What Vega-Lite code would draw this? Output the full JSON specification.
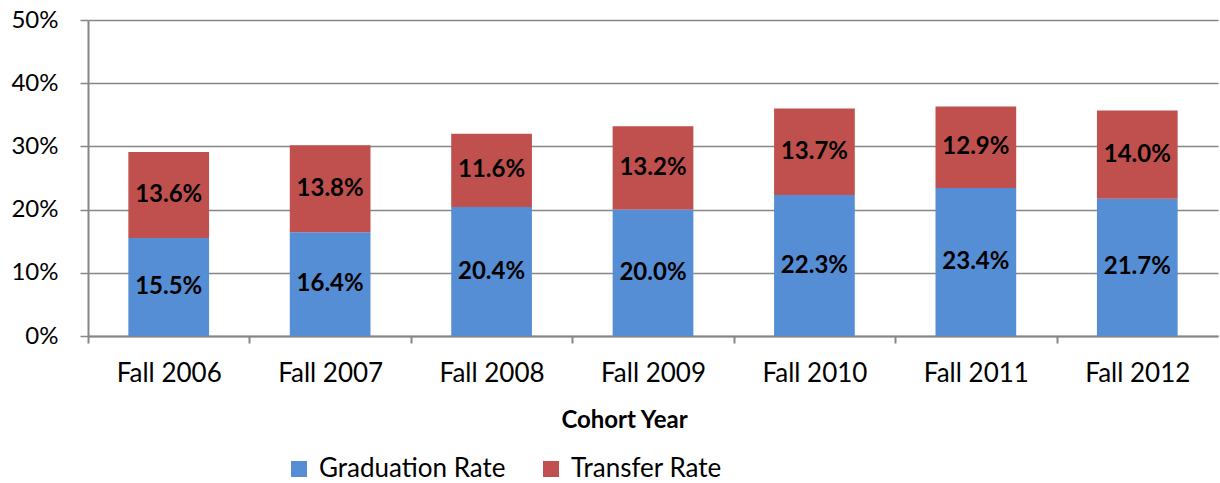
{
  "$schema": "https://vega.github.io/schema/vega-lite/v6.json",
  "width": 1130,
  "height": 316,
  "autosize": {"type": "none"},
  "padding": {"left": 88, "top": 20, "right": 2, "bottom": 147},
  "background": "white",
  "config": {"font": "Lato", "view": {"stroke": null}},
  "data": {
    "values": [
      {"cohort": "Fall 2006", "series": "Graduation Rate", "order": 1, "value": 0.155},
      {"cohort": "Fall 2006", "series": "Transfer Rate", "order": 2, "value": 0.136},
      {"cohort": "Fall 2007", "series": "Graduation Rate", "order": 1, "value": 0.164},
      {"cohort": "Fall 2007", "series": "Transfer Rate", "order": 2, "value": 0.138},
      {"cohort": "Fall 2008", "series": "Graduation Rate", "order": 1, "value": 0.204},
      {"cohort": "Fall 2008", "series": "Transfer Rate", "order": 2, "value": 0.116},
      {"cohort": "Fall 2009", "series": "Graduation Rate", "order": 1, "value": 0.200},
      {"cohort": "Fall 2009", "series": "Transfer Rate", "order": 2, "value": 0.132},
      {"cohort": "Fall 2010", "series": "Graduation Rate", "order": 1, "value": 0.223},
      {"cohort": "Fall 2010", "series": "Transfer Rate", "order": 2, "value": 0.137},
      {"cohort": "Fall 2011", "series": "Graduation Rate", "order": 1, "value": 0.234},
      {"cohort": "Fall 2011", "series": "Transfer Rate", "order": 2, "value": 0.129},
      {"cohort": "Fall 2012", "series": "Graduation Rate", "order": 1, "value": 0.217},
      {"cohort": "Fall 2012", "series": "Transfer Rate", "order": 2, "value": 0.140}
    ]
  },
  "transform": [
    {"stack": "value", "groupby": ["cohort"], "sort": [{"field": "order"}], "as": ["v0", "v1"]}
  ],
  "encoding": {
    "x": {
      "field": "cohort",
      "type": "nominal",
      "sort": null,
      "scale": {"paddingInner": 0.5, "paddingOuter": 0.25},
      "axis": {
        "title": "Cohort Year",
        "titleFontSize": 24,
        "titleFontWeight": "bold",
        "titleColor": "black",
        "titleX": 536,
        "titleY": 84,
        "titleBaseline": "middle",
        "labelAngle": 0,
        "labelFontSize": 26,
        "labelColor": "black",
        "labelPadding": 17,
        "domainColor": "#868686",
        "domainWidth": 2,
        "tickColor": "#868686",
        "tickWidth": 2,
        "tickSize": 7,
        "tickOffset": -80.71,
        "labelOffset": 80.71
      }
    }
  },
  "layer": [
    {
      "mark": {"type": "bar"},
      "encoding": {
        "y": {
          "field": "v0",
          "type": "quantitative",
          "scale": {"domain": [0, 0.5]},
          "axis": {
            "title": null,
            "format": ".0%",
            "values": [0, 0.1, 0.2, 0.3, 0.4, 0.5],
            "grid": true,
            "gridColor": "#868686",
            "gridWidth": 1.5,
            "labelFontSize": 24,
            "labelColor": "black",
            "labelPadding": 22,
            "domainColor": "#868686",
            "domainWidth": 2,
            "tickColor": "#868686",
            "tickWidth": 1.5,
            "tickSize": 8
          }
        },
        "y2": {"field": "v1"},
        "color": {
          "field": "series",
          "type": "nominal",
          "scale": {"domain": ["Graduation Rate", "Transfer Rate"], "range": ["#558ED5", "#C0504D"]},
          "legend": {
            "title": null,
            "orient": "none",
            "legendX": 198,
            "legendY": 436,
            "direction": "horizontal",
            "symbolType": "square",
            "symbolSize": 256,
            "symbolStrokeWidth": 0,
            "labelFontSize": 26,
            "labelColor": "black",
            "labelLimit": 400,
            "labelOffset": 7,
            "columnPadding": 32
          }
        }
      }
    },
    {
      "transform": [
        {"fold": ["v0", "v1"], "as": ["edge", "pos"]},
        {"aggregate": [{"op": "sum", "field": "pos", "as": "mid2"}], "groupby": ["cohort", "series", "value"]}
      ],
      "mark": {"type": "text", "fontWeight": "bold", "fontSize": 24, "color": "black", "baseline": "middle"},
      "encoding": {
        "y": {"field": "mid2", "type": "quantitative", "scale": {"domain": [0, 1]}, "axis": null},
        "text": {"field": "value", "type": "quantitative", "format": ".1%"}
      }
    }
  ],
  "resolve": {"scale": {"y": "independent"}}
}
